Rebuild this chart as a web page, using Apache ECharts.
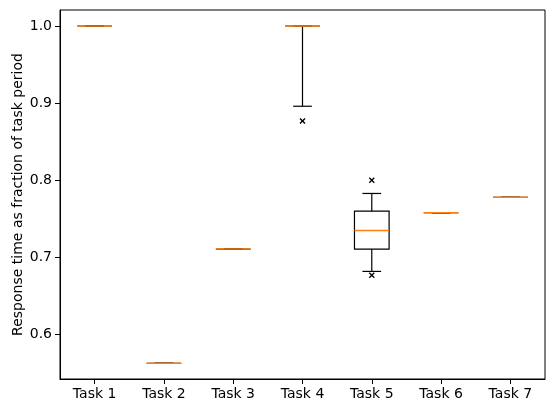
<!DOCTYPE html>
<html><head><meta charset="utf-8">
<script src="https://cdn.jsdelivr.net/npm/echarts@6/dist/echarts.min.js"></script>
<style>html,body{margin:0;padding:0;background:#fff}#c{width:554px;height:407px}</style>
</head><body><div id="c"></div>
<script>
var categories = ['Task 1','Task 2','Task 3','Task 4','Task 5','Task 6','Task 7'];
var lowWhisker = [1.0, 0.563, 0.711, 0.896, 0.682, 0.758, 0.778];
var q1 =         [1.0, 0.563, 0.711, 1.0,   0.711, 0.758, 0.778];
var median =     [1.0, 0.563, 0.711, 1.0,   0.735, 0.758, 0.778];
var q3 =         [1.0, 0.563, 0.711, 1.0,   0.760, 0.758, 0.778];
var highWhisker = [1.0, 0.563, 0.711, 1.0,  0.783, 0.758, 0.778];
var outlierTask = [3, 4, 4];
var outlierValue = [0.877, 0.800, 0.677];
var yTicks = [0.6, 0.7, 0.8, 0.9, 1.0];

var boxData = categories.map(function(c,i){return [i, lowWhisker[i], q1[i], median[i], q3[i], highWhisker[i]];});
var outData = outlierTask.map(function(t,i){return [t, outlierValue[i]];});

var chart = echarts.init(document.getElementById('c'), null, {renderer:'canvas'});
var font = 'DejaVu Sans';
chart.setOption({
  animation:false,
  grid:{left:60,right:9,top:10,bottom:28,containLabel:false,outerBoundsMode:'none',show:true,borderColor:'#000',borderWidth:1,backgroundColor:'transparent'},
  xAxis:{type:'category',data:categories,boundaryGap:true,
    axisLine:{show:true,lineStyle:{color:'#000',width:1}},
    axisTick:{show:true,alignWithLabel:true,length:5,lineStyle:{color:'#000'},inside:false},
    axisLabel:{color:'#000',fontFamily:font,fontSize:14,margin:8},
    splitLine:{show:false}},
  yAxis:{type:'value',min:0.5426,max:1.0207,
    name:'Response time as fraction of task period',nameLocation:'middle',nameGap:35,nameRotate:90,
    nameMoveOverlap:false,
    nameTextStyle:{color:'#000',fontFamily:font,fontSize:14},
    axisLine:{show:true,lineStyle:{color:'#000',width:1}},
    axisTick:{show:true,length:5,lineStyle:{color:'#000'},customValues:yTicks},
    axisLabel:{color:'#000',fontFamily:font,fontSize:14,margin:8,customValues:yTicks,
      formatter:function(v){return (+v).toFixed(1);}},
    splitLine:{show:false}},
  series:[{
    type:'custom',
    data:boxData,
    encode:{x:0,y:[1,2,3,4,5]},
    renderItem:function(params,api){
      var i=api.value(0);
      var bw=api.size([1,0])[0];
      var half=bw*0.25, cap=bw*0.135;
      var pL=api.coord([i,api.value(1)]), pQ1=api.coord([i,api.value(2)]),
          pM=api.coord([i,api.value(3)]), pQ3=api.coord([i,api.value(4)]),
          pH=api.coord([i,api.value(5)]);
      var x=pM[0];
      var st={stroke:'#000',lineWidth:1.2,fill:null};
      var ch=[];
      ch.push({type:'rect',shape:{x:x-half,y:pQ3[1],width:2*half,height:pQ1[1]-pQ3[1]},style:{stroke:'#000',lineWidth:1.2,fill:'none'}});
      ch.push({type:'line',shape:{x1:x,y1:pQ1[1],x2:x,y2:pL[1]},style:st});
      ch.push({type:'line',shape:{x1:x,y1:pQ3[1],x2:x,y2:pH[1]},style:st});
      ch.push({type:'line',shape:{x1:x-cap,y1:pL[1],x2:x+cap,y2:pL[1]},style:st});
      ch.push({type:'line',shape:{x1:x-cap,y1:pH[1],x2:x+cap,y2:pH[1]},style:st});
      ch.push({type:'line',shape:{x1:x-half,y1:pM[1],x2:x+half,y2:pM[1]},style:{stroke:'#ff7f0e',lineWidth:1.6}});
      return {type:'group',children:ch};
    }
  },{
    type:'custom',
    data:outData,
    encode:{x:0,y:1},
    renderItem:function(params,api){
      var p=api.coord([api.value(0),api.value(1)]);
      var s=2.5;
      var st={stroke:'#000',lineWidth:1.4};
      return {type:'group',children:[
        {type:'line',shape:{x1:p[0]-s,y1:p[1]-s,x2:p[0]+s,y2:p[1]+s},style:st},
        {type:'line',shape:{x1:p[0]-s,y1:p[1]+s,x2:p[0]+s,y2:p[1]-s},style:st}
      ]};
    }
  }]
});
</script></body></html>
